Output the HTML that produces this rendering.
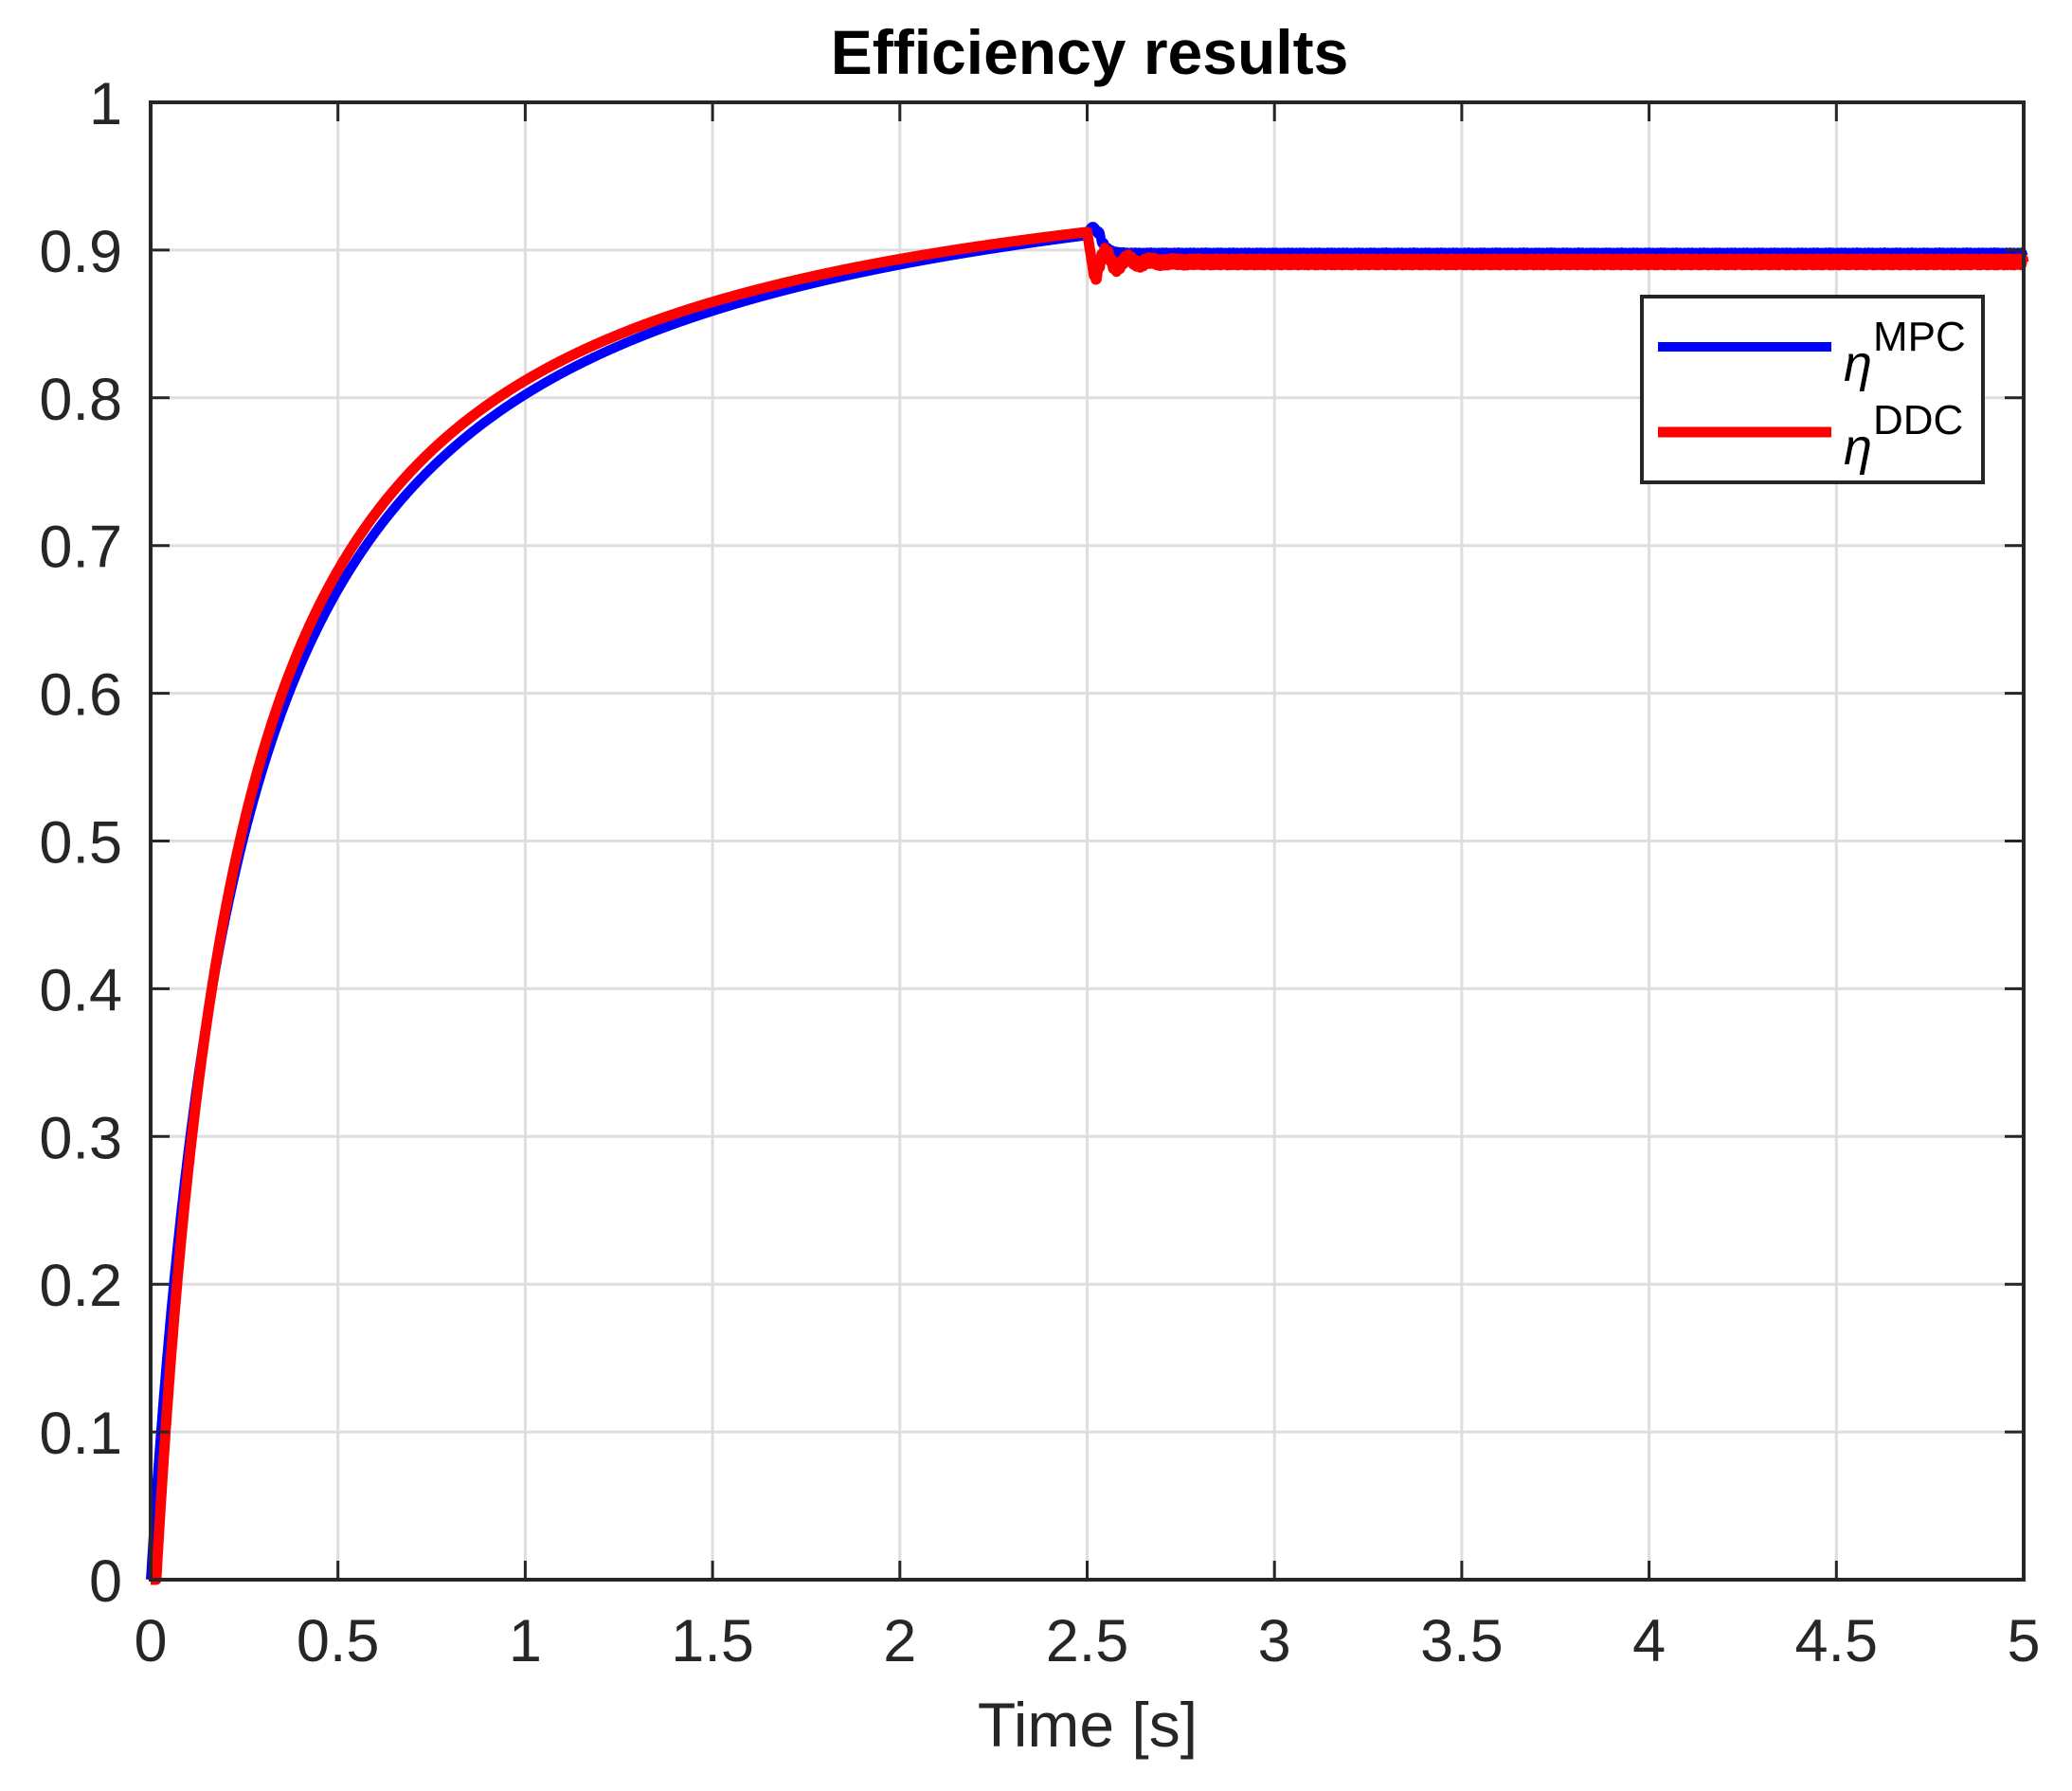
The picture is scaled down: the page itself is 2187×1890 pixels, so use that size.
<!DOCTYPE html>
<html><head><meta charset="utf-8"><style>
html,body{margin:0;padding:0;background:#fff;}
svg{display:block;}
text{font-family:"Liberation Sans",Arial,sans-serif;fill:#262626;}
</style></head><body>
<svg id="s" width="2187" height="1890" xmlns="http://www.w3.org/2000/svg">
<rect width="2187" height="1890" fill="#fff"/>
<g id="grid" stroke="#dedede" stroke-width="3"></g>
<path id="mpc" fill="none" stroke="#0000ff" stroke-width="10" stroke-linejoin="round"/>
<path id="ddc" fill="none" stroke="#ff0000" stroke-width="11" stroke-linejoin="round"/>
<g id="ticks" stroke="#262626" stroke-width="3"></g>
<rect x="159" y="108" width="1977" height="1559" fill="none" stroke="#262626" stroke-width="4"/>
<g id="labels" font-size="63"></g>
<text x="1150" y="78" font-size="66" font-weight="bold" text-anchor="middle" style="fill:#000">Efficiency results</text>
<text x="1148" y="1843" font-size="66" text-anchor="middle">Time [s]</text>
<rect x="1733" y="313" width="360" height="196" fill="#fff" stroke="#262626" stroke-width="4"/>
<line x1="1750" y1="366" x2="1933" y2="366" stroke="#0000ff" stroke-width="10"/>
<line x1="1750" y1="456" x2="1933" y2="456" stroke="#ff0000" stroke-width="11"/>
<text x="1946" y="402" font-size="54" font-style="italic" font-family="Liberation Serif,serif" style="fill:#000">η</text>
<text x="1977" y="370" font-size="44" style="fill:#000">MPC</text>
<text x="1946" y="490" font-size="54" font-style="italic" font-family="Liberation Serif,serif" style="fill:#000">η</text>
<text x="1977" y="458" font-size="44" style="fill:#000">DDC</text>
</svg>
<script>
var L=159,T=108,W=1977,H=1559;
function X(t){return L+t/5*W;} function Y(v){return T+H*(1-v);}
var ns="http://www.w3.org/2000/svg";
function el(p,n,a,txt){var e=document.createElementNS(ns,n);for(var k in a)e.setAttribute(k,a[k]);if(txt!=null)e.textContent=txt;document.getElementById(p).appendChild(e);}
for(var i=1;i<10;i++){var x=X(i*0.5);el("grid","line",{x1:x,y1:T,x2:x,y2:T+H});el("ticks","line",{x1:x,y1:T,x2:x,y2:T+20});el("ticks","line",{x1:x,y1:T+H,x2:x,y2:T+H-20});}
for(var i=1;i<10;i++){var y=Y(i/10);el("grid","line",{x1:L,y1:y,x2:L+W,y2:y});el("ticks","line",{x1:L,y1:y,x2:L+20,y2:y});el("ticks","line",{x1:L+W,y1:y,x2:L+W-20,y2:y});}
var xl=["0","0.5","1","1.5","2","2.5","3","3.5","4","4.5","5"];
for(var i=0;i<=10;i++)el("labels","text",{x:X(i*0.5),y:1753,"text-anchor":"middle"},xl[i]);
var yl=["0","0.1","0.2","0.3","0.4","0.5","0.6","0.7","0.8","0.9","1"];
for(var i=0;i<=10;i++)el("labels","text",{x:129,y:Y(i/10)+23,"text-anchor":"end"},yl[i]);
function mpc(t){if(t<=2.5)return 0.9994*t/(0.2458+t);
 var d=t-2.5;var base=0.897;var pre=0.9994*2.5/2.7458;
 if(d<0.03)return pre+0.006*Math.sin(d/0.03*Math.PI);
 return base+(pre-base+0.004)*Math.exp(-(d-0.03)/0.015)+0.0015*Math.sin(d*600);}
function ddc(t){var tt=t-0.015;if(tt<=0)return 0;if(t<=2.5)return 0.993*tt/(0.22+tt);
 var d=t-2.5;var base=0.892;var pre=0.993*2.485/2.705;
 if(d<0.02)return pre-(pre-0.88)*(d/0.02);
 return base+(0.88-base)*Math.exp(-(d-0.02)/0.06)*Math.cos((d-0.02)/0.03*Math.PI)+0.0022*Math.sin(d*700);}
function path(f){var s="";for(var i=0;i<=3000;i++){var t=i/3000*5;s+=(i?"L":"M")+X(t).toFixed(1)+" "+Y(f(t)).toFixed(1);}return s;}
document.getElementById("mpc").setAttribute("d",path(mpc));
document.getElementById("ddc").setAttribute("d",path(ddc));
</script>
</body></html>
